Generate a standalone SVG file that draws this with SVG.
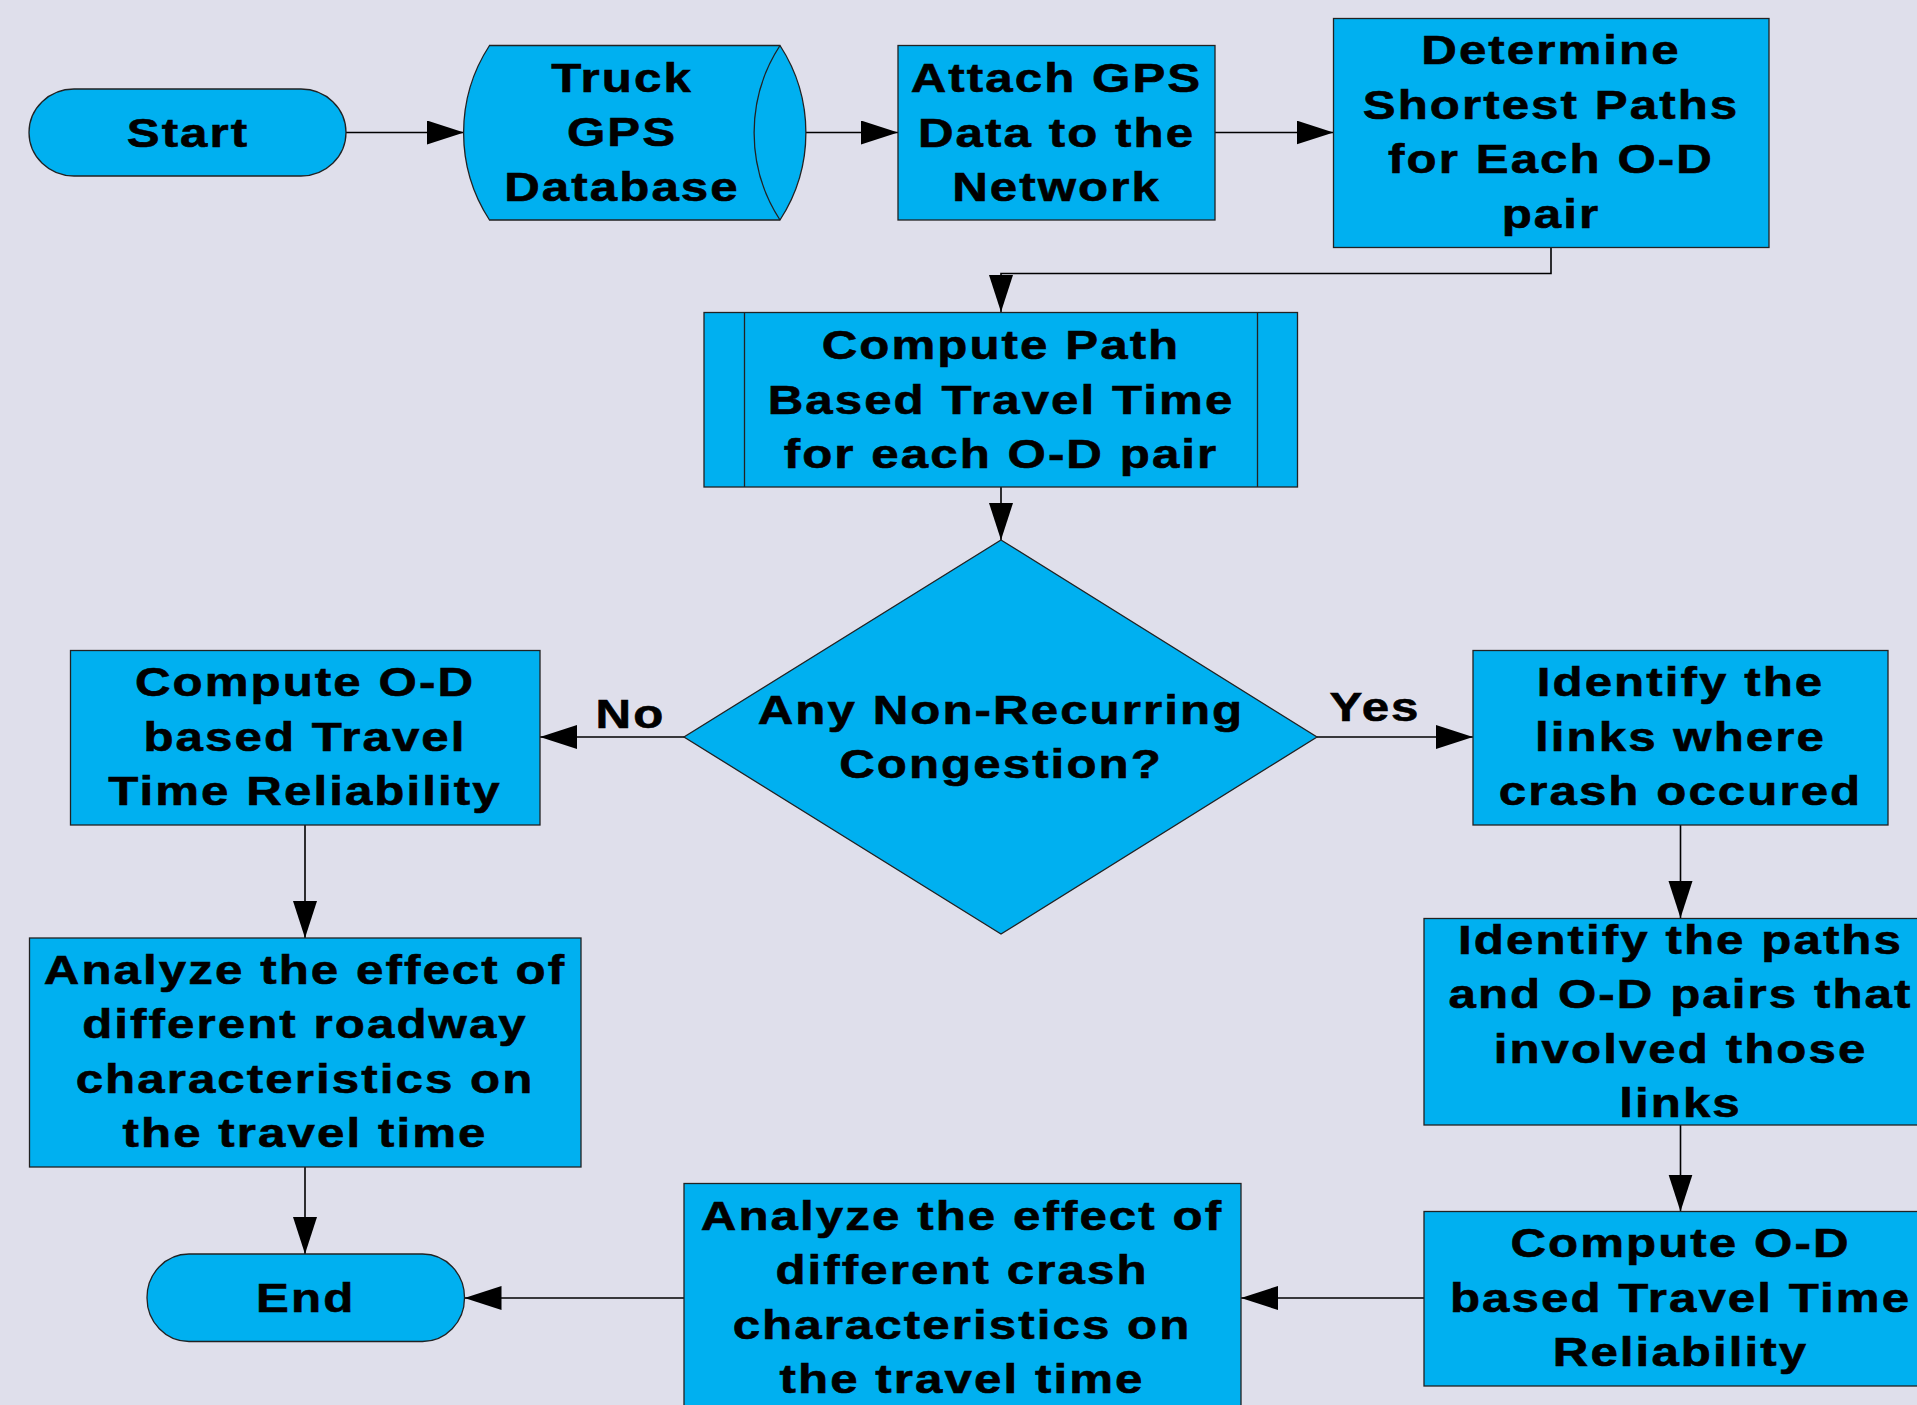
<svg xmlns="http://www.w3.org/2000/svg" width="1917" height="1405" viewBox="0 0 1917 1405">
<style>
  .bg { fill: #DFDFEB; }
  .shape { fill: #00B0F0; stroke: #222; stroke-width: 1.3; }
  .t { font-family: "Liberation Sans", Arial, sans-serif; font-weight: bold; font-size: 41px; letter-spacing: 1.75px; text-anchor: middle; fill: #000; stroke: #000; stroke-width: 0.6; }
  .conn { fill: none; stroke: #000; stroke-width: 1.6; marker-end: url(#arrow); }
</style>
<defs>
  <marker id="arrow" markerUnits="userSpaceOnUse" markerWidth="40" markerHeight="28" refX="37" refY="12" orient="auto">
    <path d="M0,0 L37,12 L0,24 Z" fill="#000"/>
  </marker>
</defs>
<rect class="bg" x="0" y="0" width="1917" height="1405"/>

<g id="connectors">
  <path class="conn" d="M346,132.5 H464"/>
  <path class="conn" d="M806,132.5 H898"/>
  <path class="conn" d="M1215,132.5 H1333.5"/>
  <path class="conn" d="M1551,247.5 V273.5 H1001 V312"/>
  <path class="conn" d="M1001,487 V540"/>
  <path class="conn" d="M684,737 H540"/>
  <path class="conn" d="M1317,737 H1473"/>
  <path class="conn" d="M305,825 V938"/>
  <path class="conn" d="M305,1167 V1254"/>
  <path class="conn" d="M1680.5,825 V918"/>
  <path class="conn" d="M1680.5,1125 V1211.5"/>
  <path class="conn" d="M1424,1298 H1241"/>
  <path class="conn" d="M684,1298 H464.5"/>
  <text class="t" transform="translate(630.5 0) scale(1.2 1)" x="0" y="728">No</text>
  <text class="t" transform="translate(1375 0) scale(1.2 1)" x="0" y="721">Yes</text>
</g>

<g id="start">
  <rect class="shape" x="29" y="89" width="317" height="87" rx="45" ry="43.5"/>
  <text class="t" transform="translate(188 0) scale(1.2 1)" x="0" y="147">Start</text>
</g>

<g id="truck-gps-database">
  <path class="shape" d="M489.5,45.5 L780,45.5 A160,160 0 0 1 780,220 L489.5,220 A160,160 0 0 1 489.5,45.5 Z"/>
  <path class="shape" fill="none" d="M780,45.5 A160,160 0 0 0 780,220"/>
  <text class="t" transform="translate(622 0) scale(1.2 1)" x="0"><tspan x="0" y="91.7">Truck</tspan><tspan x="0" y="146.5">GPS</tspan><tspan x="0" y="201">Database</tspan></text>
</g>

<g id="attach-gps">
  <rect class="shape" x="898" y="45.5" width="317" height="174.5"/>
  <text class="t" transform="translate(1056.5 0) scale(1.2 1)" x="0"><tspan x="0" y="92.5">Attach GPS</tspan><tspan x="0" y="147">Data to the</tspan><tspan x="0" y="201.5">Network</tspan></text>
</g>

<g id="determine-shortest-paths">
  <rect class="shape" x="1333.5" y="18.5" width="435.5" height="229"/>
  <text class="t" transform="translate(1551 0) scale(1.2 1)" x="0"><tspan x="0" y="64.5">Determine</tspan><tspan x="0" y="119">Shortest Paths</tspan><tspan x="0" y="173.5">for Each O-D</tspan><tspan x="0" y="228">pair</tspan></text>
</g>

<g id="compute-path-travel-time">
  <rect class="shape" x="704" y="312.5" width="593.5" height="174.5"/>
  <line x1="744.5" y1="312.5" x2="744.5" y2="487" stroke="#222" stroke-width="1.3"/>
  <line x1="1257.5" y1="312.5" x2="1257.5" y2="487" stroke="#222" stroke-width="1.3"/>
  <text class="t" transform="translate(1001 0) scale(1.2 1)" x="0"><tspan x="0" y="359.5">Compute Path</tspan><tspan x="0" y="414">Based Travel Time</tspan><tspan x="0" y="468">for each O-D pair</tspan></text>
</g>

<g id="decision-congestion">
  <path class="shape" d="M1001,540 L1317,737 L1001,934 L684,737 Z"/>
  <text class="t" transform="translate(1001 0) scale(1.2 1)" x="0"><tspan x="0" y="723.8">Any Non-Recurring</tspan><tspan x="0" y="778.3">Congestion?</tspan></text>
</g>

<g id="compute-od-reliability-left">
  <rect class="shape" x="70.5" y="650.5" width="469.5" height="174.5"/>
  <text class="t" transform="translate(305 0) scale(1.2 1)" x="0"><tspan x="0" y="696.5">Compute O-D</tspan><tspan x="0" y="751">based Travel</tspan><tspan x="0" y="805.5">Time Reliability</tspan></text>
</g>

<g id="analyze-roadway">
  <rect class="shape" x="29.5" y="938" width="551.5" height="229"/>
  <text class="t" transform="translate(305 0) scale(1.2 1)" x="0"><tspan x="0" y="984">Analyze the effect of</tspan><tspan x="0" y="1038.5">different roadway</tspan><tspan x="0" y="1093">characteristics on</tspan><tspan x="0" y="1147.5">the travel time</tspan></text>
</g>

<g id="end">
  <rect class="shape" x="147" y="1254" width="317.5" height="87.5" rx="42" ry="43.5"/>
  <text class="t" transform="translate(305.7 0) scale(1.2 1)" x="0" y="1312.5">End</text>
</g>

<g id="identify-links">
  <rect class="shape" x="1473" y="650.5" width="415" height="174.5"/>
  <text class="t" transform="translate(1680.5 0) scale(1.2 1)" x="0"><tspan x="0" y="696.5">Identify the</tspan><tspan x="0" y="751">links where</tspan><tspan x="0" y="805.5">crash occured</tspan></text>
</g>

<g id="identify-paths">
  <rect class="shape" x="1424" y="918.5" width="513" height="206.5"/>
  <text class="t" transform="translate(1680.5 0) scale(1.2 1)" x="0"><tspan x="0" y="954">Identify the paths</tspan><tspan x="0" y="1008.5">and O-D pairs that</tspan><tspan x="0" y="1063">involved those</tspan><tspan x="0" y="1117">links</tspan></text>
</g>

<g id="compute-od-reliability-right">
  <rect class="shape" x="1424" y="1211.5" width="513" height="174.5"/>
  <text class="t" transform="translate(1680.5 0) scale(1.2 1)" x="0"><tspan x="0" y="1257.5">Compute O-D</tspan><tspan x="0" y="1312">based Travel Time</tspan><tspan x="0" y="1366.5">Reliability</tspan></text>
</g>

<g id="analyze-crash">
  <rect class="shape" x="684" y="1183.5" width="557" height="229"/>
  <text class="t" transform="translate(962 0) scale(1.2 1)" x="0"><tspan x="0" y="1230">Analyze the effect of</tspan><tspan x="0" y="1284.5">different crash</tspan><tspan x="0" y="1339">characteristics on</tspan><tspan x="0" y="1393">the travel time</tspan></text>
</g>
</svg>
